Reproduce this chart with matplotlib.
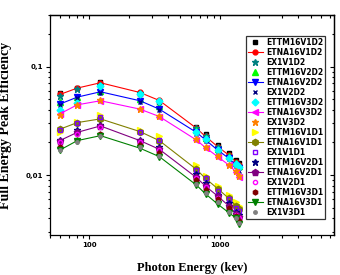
import numpy as np
import matplotlib
matplotlib.use("Agg")
import matplotlib.pyplot as plt
from matplotlib.ticker import LogLocator, FuncFormatter, NullFormatter

# energias (keV)
energia = [59.5, 81, 121.8, 244.7, 344.3, 661.7, 778.9, 964.1, 1173.2, 1332.5, 1408]

# grupo D2
ettm_v1d2 = [0.057, 0.064, 0.073, 0.056, 0.047, 0.028, 0.0238, 0.0188, 0.0160, 0.0138, 0.0128]
etna_v1d2 = [0.0554, 0.0635, 0.0711, 0.0578, 0.0488, 0.0271, 0.0227, 0.0183, 0.0153, 0.0133, 0.0124]
ex1_v1d2 = [0.054, 0.062, 0.068, 0.057, 0.048, 0.027, 0.023, 0.018, 0.015, 0.013, 0.012]
ettm_v2d2 = [0.047, 0.053, 0.060, 0.050, 0.043, 0.026, 0.022, 0.0175, 0.0150, 0.013, 0.012]
etna_v2d2 = [0.0452, 0.0524, 0.0587, 0.0485, 0.0406, 0.0248, 0.0211, 0.0170, 0.0143, 0.0124, 0.0115]
ex1_v2d2 = [0.044, 0.051, 0.057, 0.047, 0.040, 0.024, 0.0205, 0.0165, 0.014, 0.012, 0.011]
ettm_v3d2 = [0.040, 0.046, 0.066, 0.056, 0.048, 0.025, 0.0215, 0.0172, 0.0145, 0.0126, 0.0118]
etna_v3d2 = [0.0367, 0.0445, 0.0485, 0.0406, 0.0347, 0.0211, 0.0179, 0.0148, 0.0124, 0.0107, 0.0096]
ex1_v3d2 = [0.036, 0.044, 0.049, 0.041, 0.035, 0.0215, 0.018, 0.015, 0.0125, 0.011, 0.0098]

# grupo D1
ettm_v1d1 = [0.025, 0.031, 0.036, 0.026, 0.023, 0.0125, 0.0098, 0.0080, 0.0066, 0.0056, 0.0052]
etna_v1d1 = [0.0265, 0.0305, 0.033, 0.0252, 0.0208, 0.0113, 0.0093, 0.0075, 0.0061, 0.0052, 0.0049]
ex1_v1d1 = [0.026, 0.030, 0.034, 0.025, 0.021, 0.0112, 0.0093, 0.0072, 0.0060, 0.0050, 0.0047]
ettm_v2d1 = [0.021, 0.026, 0.029, 0.021, 0.018, 0.0102, 0.0085, 0.0066, 0.0055, 0.0046, 0.0043]
etna_v2d1 = [0.0208, 0.0248, 0.0284, 0.0208, 0.0173, 0.0095, 0.0079, 0.0064, 0.0052, 0.0044, 0.0041]
ex1_v2d1 = [0.020, 0.024, 0.028, 0.020, 0.017, 0.0093, 0.0077, 0.0062, 0.0050, 0.0043, 0.0040]
ettm_v3d1 = [0.018, 0.021, 0.024, 0.019, 0.016, 0.0090, 0.0073, 0.0060, 0.0050, 0.0042, 0.0038]
etna_v3d1 = [0.0170, 0.0208, 0.0231, 0.0177, 0.0148, 0.0081, 0.0067, 0.0054, 0.0045, 0.0040, 0.0035]
ex1_v3d1 = [0.017, 0.020, 0.023, 0.018, 0.015, 0.0083, 0.0069, 0.0056, 0.0046, 0.0040, 0.0036]

# (etiqueta, datos, color, marcador, con linea, relleno, tamaño)
series = [
    ("ETTM16V1D2", ettm_v1d2, "#000000", "s", False, True, 3),
    ("ETNA16V1D2", etna_v1d2, "#ff0000", "o", True, True, 3.5),
    ("EX1V1D2", ex1_v1d2, "#008080", "*", False, True, 4.5),
    ("ETTM16V2D2", ettm_v2d2, "#00ff00", "^", False, True, 4),
    ("ETNA16V2D2", etna_v2d2, "#0000ff", "v", True, True, 4),
    ("EX1V2D2", ex1_v2d2, "#000080", "x", False, True, 3),
    ("ETTM16V3D2", ettm_v3d2, "#00ffff", "D", False, True, 3.5),
    ("ETNA16V3D2", etna_v3d2, "#ff00ff", "<", True, True, 4),
    ("EX1V3D2", ex1_v3d2, "#ff8000", "*", False, True, 4.5),
    ("ETTM16V1D1", ettm_v1d1, "#ffff00", ">", False, True, 4),
    ("ETNA16V1D1", etna_v1d1, "#808000", "h", True, True, 4.5),
    ("EX1V1D1", ex1_v1d1, "#8000ff", "s", False, False, 3),
    ("ETTM16V2D1", ettm_v2d1, "#000080", "*", False, True, 4.5),
    ("ETNA16V2D1", etna_v2d1, "#800080", "p", True, True, 4.5),
    ("EX1V2D1", ex1_v2d1, "#ff00ff", "o", False, False, 3),
    ("ETTM16V3D1", ettm_v3d1, "#800000", "h", False, True, 3.5),
    ("ETNA16V3D1", etna_v3d1, "#008000", "v", True, True, 4),
    ("EX1V3D1", ex1_v3d1, "#808080", "o", False, True, 2.5),
]

fig = plt.figure(figsize=(3.4, 2.75), dpi=100)
ax = fig.add_axes([0.147, 0.1455, 0.835, 0.80])

for nombre, datos, color, marc, linea, relleno, tam in series:
    ax.plot(energia, datos, color=color, marker=marc, markersize=tam,
            linestyle="-" if linea else "none", linewidth=0.8,
            markerfacecolor=color if relleno else "none",
            markeredgecolor=color, markeredgewidth=1.0, label=nombre)

ax.set_xscale("log")
ax.set_yscale("log")
ax.set_xlim(50, 7500)
ax.set_ylim(0.0028, 0.3)

coma = FuncFormatter(lambda v, p: ("%g" % v).replace(".", ","))
ax.xaxis.set_major_locator(LogLocator(base=10))
ax.yaxis.set_major_locator(LogLocator(base=10))
ax.xaxis.set_minor_locator(LogLocator(base=10, subs=np.arange(2, 10)))
ax.yaxis.set_minor_locator(LogLocator(base=10, subs=np.arange(2, 10)))
ax.xaxis.set_major_formatter(coma)
ax.yaxis.set_major_formatter(coma)
ax.xaxis.set_minor_formatter(NullFormatter())
ax.yaxis.set_minor_formatter(NullFormatter())

ax.tick_params(which="both", direction="out", width=0.8, labelsize=5, pad=2)
ax.tick_params(which="major", length=3)
ax.tick_params(which="minor", length=1.8)
for t in ax.get_xticklabels() + ax.get_yticklabels():
    t.set_fontweight("bold")
for s in ax.spines.values():
    s.set_linewidth(0.9)

# ticks espejo hacia dentro arriba y a la derecha
arriba = ax.secondary_xaxis("top")
derecha = ax.secondary_yaxis("right")
for eje, sub in ((arriba, arriba.xaxis), (derecha, derecha.yaxis)):
    sub.set_major_locator(LogLocator(base=10))
    sub.set_minor_locator(LogLocator(base=10, subs=np.arange(2, 10)))
    sub.set_major_formatter(NullFormatter())
    sub.set_minor_formatter(NullFormatter())
    eje.tick_params(which="both", direction="in", width=0.8)
    eje.tick_params(which="major", length=3)
    eje.tick_params(which="minor", length=1.8)
    for s in eje.spines.values():
        s.set_linewidth(0.9)

ax.set_xlabel("Photon Energy (kev)", family="Liberation Serif", fontweight="bold", fontsize=9)
ax.set_ylabel("Full Energy Peak Efficiency", family="Liberation Serif", fontweight="bold", fontsize=10)
ax.xaxis.set_label_coords(0.5, -0.125)
ax.yaxis.set_label_coords(-0.135, 0.5)

leg = ax.legend(loc="upper left", bbox_to_anchor=(0.690, 0.905),
                borderaxespad=0, frameon=True, fancybox=False, edgecolor="black",
                prop={"family": "DejaVu Sans", "weight": "bold", "size": 5.5},
                handlelength=2.0, handletextpad=0.4, labelspacing=0.13, borderpad=0.25,
                markerscale=1.0)
leg.get_frame().set_linewidth(0.9)

fig.savefig("out.png", dpi=100)
